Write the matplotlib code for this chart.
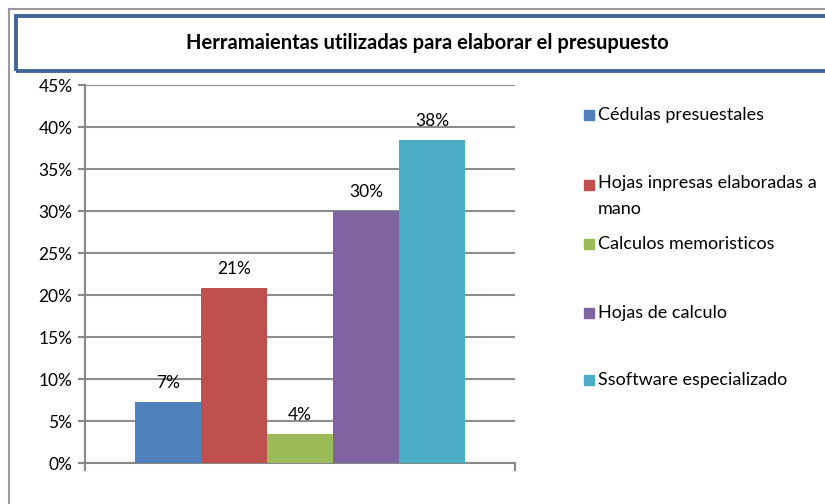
import matplotlib
matplotlib.use("Agg")
import matplotlib.pyplot as plt
from matplotlib.patches import Rectangle
from matplotlib.lines import Line2D
import numpy as np

plt.rcParams['font.family'] = ['Lato', 'DejaVu Sans']

title = "Herramaientas utilizadas para elaborar el presupuesto"
categories = ["Cédulas presuestales", "Hojas inpresas elaboradas a\nmano",
              "Calculos memoristicos", "Hojas de calculo", "Ssoftware especializado"]
values = [7.3, 20.8, 3.45, 30.0, 38.45]
labels = ["7%", "21%", "4%", "30%", "38%"]
colors = ["#4F81BD", "#C0504D", "#9BBB59", "#8064A2", "#4BACC6"]
yticks = [0, 5, 10, 15, 20, 25, 30, 35, 40, 45]
ytick_labels = ["0%", "5%", "10%", "15%", "20%", "25%", "30%", "35%", "40%", "45%"]

W, H = 825, 504
fig = plt.figure(figsize=(W/100, H/100), dpi=100)

def fx(x): return x / W
def fy(y): return 1 - y / H

# outer border lines
fig.add_artist(Line2D([fx(9), fx(9)], [fy(9), fy(504)], color="#9A9A9A", lw=1.5))
fig.add_artist(Line2D([fx(9), fx(825)], [fy(9), fy(9)], color="#9A9A9A", lw=1.5))
# title box
fig.add_artist(Rectangle((fx(16), fy(71)), fx(830) - fx(16), fy(16) - fy(71),
                         transform=fig.transFigure, fill=False,
                         edgecolor="#41659A", lw=2.8))
fig.text(fx(427), fy(43), title, ha="center", va="center",
         fontsize=14.5, fontweight="bold", color="black")

ax = fig.add_axes([fx(85), fy(463), fx(515) - fx(85), fy(85) - fy(463)])
x = np.arange(len(values))
ax.bar(x, values, width=1.0, color=colors, label=categories, zorder=3)
for xi, v, lab in zip(x, values, labels):
    ax.text(xi, v + 1.3, lab, ha="center", va="bottom", fontsize=12.5)

ax.set_xlim(-1.25, 5.25)
ax.set_ylim(0, 45)
ax.set_yticks(yticks)
ax.set_yticklabels(ytick_labels, fontsize=12.5)
ax.set_xticks([-1.25, 5.25])
ax.set_xticklabels([])
ax.tick_params(axis="x", direction="out", length=6, color="#888888", width=1.5)
ax.tick_params(axis="y", direction="out", length=5, color="#888888", width=1.5, pad=4)
ax.yaxis.grid(True, color="#8C8C8C", lw=1.5, zorder=0)
for s in ["top", "right"]:
    ax.spines[s].set_visible(False)
for s in ["left", "bottom"]:
    ax.spines[s].set_color("#888888")
    ax.spines[s].set_linewidth(1.5)

# legend
leg_y = [115, 185, 244, 313, 380]
for cat, c, ly in zip(categories, colors, leg_y):
    fig.add_artist(Rectangle((fx(584), fy(ly + 5)), fx(10), fy(0) - fy(10),
                             transform=fig.transFigure, color=c))
    if "\n" in cat:
        fig.text(fx(598), fy(ly - 10), cat, ha="left", va="top",
                 fontsize=13, linespacing=1.75)
    else:
        fig.text(fx(598), fy(ly), cat, ha="left", va="center", fontsize=13)

fig.savefig("out.png", dpi=100)
